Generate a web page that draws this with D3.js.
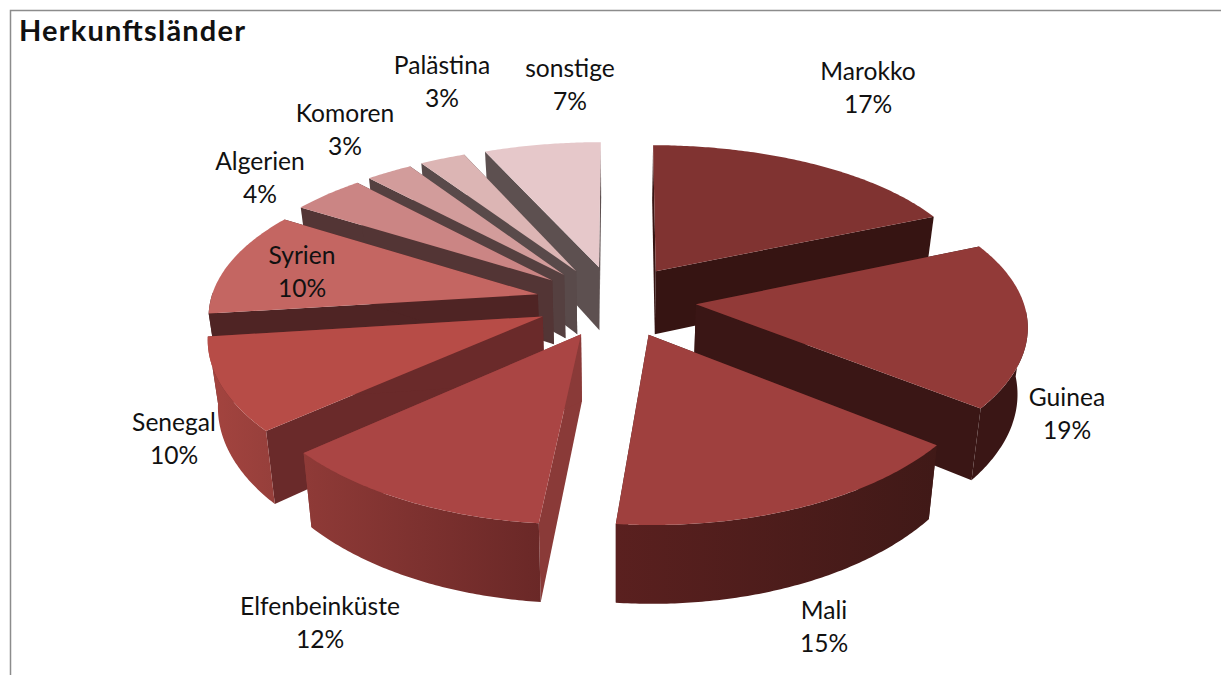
<!DOCTYPE html>
<meta charset="utf-8">
<style>
  body { margin: 0; background: #fff; }
  text { font-family: Lato, "Open Sans", sans-serif; fill: #111; }
</style>
<body>
<script src="https://d3js.org/d3.v7.min.js"></script>
<script>
// chart data
var title = "Herkunftsländer";
var countries = ["Marokko", "Guinea", "Mali", "Elfenbeinküste", "Senegal", "Syrien", "Algerien", "Komoren", "Palästina", "sonstige"];
var shares = [17, 19, 15, 12, 10, 10, 4, 3, 3, 7];

// slice colours: top surface, cut faces, outer wall (left and right end)
var topColors = ["#803331", "#923a38", "#9f403e", "#aa4544", "#b74c47", "#c46662", "#cb8584", "#d29c9b", "#dcb5b4", "#e6c8ca"];
var faceColors = ["#361412", "#3a1615", "#401917", "#8a3a38", "#6a2a2a", "#4f2424", "#533535", "#554040", "#594a4a", "#5d5050"];
var wallLeft = ["#361412", "#3a1615", "#5a201f", "#8f3a37", "#a4443f", "#4f2424", "#aa7070", "#b08585", "#b89a9a", "#c0a8a8"];
var wallRight = ["#361412", "#3a1615", "#401917", "#6a2827", "#963f3b", "#4f2424", "#aa7070", "#b08585", "#b89a9a", "#c0a8a8"];

// label centres (first line baseline), placed by hand like in the original
var labelX = [868, 1067, 824, 320, 174, 302, 260, 345, 442, 570];
var labelY = [80, 406, 619, 615, 431, 264, 170, 122, 74, 77];

// the original 3d view bends the slice edges a little, in degrees
var pieAngles = [0, 61.2, 129.6, 183.6, 226.8, 262.8, 298.8, 313.2, 324, 334.8, 360];
var viewAngles = [0.3, 66.4, 128.3, 185.6, 228.6, 262.8, 302.5, 317.5, 327, 336.3, 360];
var warp = d3.scaleLinear().domain(pieAngles).range(viewAngles);

// 3d view
var width = 1221,
    height = 675,
    cx = 616,
    cy = 301,
    radius = 341,
    xScale = 0.96,
    explode = 80,
    squash = 0.446,
    perspX = 0.12,
    perspY = 0.144,
    tilt = 0.025,
    depth = 65;

var svg = d3.select("body").append("svg")
  .attr("width", width)
  .attr("height", height)
  .style("display", "block");

var defs = svg.append("defs");

// frame, only top and left are visible
svg.append("path")
  .attr("d", "M10.5," + height + "V10.5H" + width)
  .attr("fill", "none")
  .attr("stroke", "#8c8c8c")
  .attr("stroke-width", 1.5);

svg.append("text")
  .attr("x", 19)
  .attr("y", 41)
  .attr("font-size", 29)
  .attr("font-weight", 700)
  .attr("textLength", 226)
  .text(title);

// plane point (angle clockwise from top) to the screen
function project(r, a, mid, z) {
  var t = warp(a * 180 / Math.PI) * Math.PI / 180,
      px = r * Math.sin(t) * xScale + explode * Math.sin(mid),
      py = r * Math.cos(t) + explode * Math.cos(mid),
      wx = 1 / (1 + perspX * py / radius),
      wy = 1 / (1 + perspY * py / radius);
  return [cx + px * wx * (1 - tilt * z), cy - squash * py * wy + depth * z * wy];
}

var line = d3.line();

function arcPoints(d, from, to, z) {
  var n = Math.ceil((to - from) / 0.01);
  return d3.range(n + 1).map(function(i) {
    return project(radius, from + (to - from) * i / n, d.mid, z);
  });
}

var slices = d3.pie().sort(null)(shares).map(function(d, i) {
  d.mid = (d.startAngle + d.endAngle) / 2;
  d.i = i;
  return d;
});

// back to front
var order = slices.slice().sort(function(a, b) {
  return d3.descending(Math.cos(a.mid), Math.cos(b.mid));
});

var groups = svg.selectAll("g.slice").data(order).enter().append("g").attr("class", "slice");

groups.each(function(d) {
  var g = d3.select(this);
  var apexTop = project(0, 0, d.mid, 0),
      apexBottom = project(0, 0, d.mid, 1);

  [d.startAngle, d.endAngle].forEach(function(a) {
    g.append("path")
      .attr("d", line([apexTop, project(radius, a, d.mid, 0), project(radius, a, d.mid, 1), apexBottom]) + "Z")
      .attr("fill", faceColors[d.i]);
  });

  // only the front half of the rim can be seen
  var from = Math.max(d.startAngle, Math.PI / 2),
      to = Math.min(d.endAngle, Math.PI * 1.5);
  if (to > from) {
    var grad = defs.append("linearGradient").attr("id", "wall" + d.i);
    grad.append("stop").attr("offset", 0).attr("stop-color", wallLeft[d.i]);
    grad.append("stop").attr("offset", 1).attr("stop-color", wallRight[d.i]);

    g.append("path")
      .attr("d", line(arcPoints(d, from, to, 0).concat(arcPoints(d, from, to, 1).reverse())) + "Z")
      .attr("fill", "url(#wall" + d.i + ")");
  }

  g.append("path")
    .attr("d", line([apexTop].concat(arcPoints(d, d.startAngle, d.endAngle, 0))) + "Z")
    .attr("fill", topColors[d.i]);
});

// labels on top
var labels = svg.selectAll("text.label").data(slices).enter().append("text")
  .attr("class", "label")
  .attr("text-anchor", "middle")
  .attr("font-size", 24.6)
  .attr("transform", function(d) {
    return "translate(" + labelX[d.i] + "," + labelY[d.i] + ")";
  });
labels.append("tspan").attr("x", 0).text(function(d) { return countries[d.i]; });
labels.append("tspan").attr("x", 0).attr("dy", 32.5).text(function(d) { return d.value + "%"; });
</script>
</body>
